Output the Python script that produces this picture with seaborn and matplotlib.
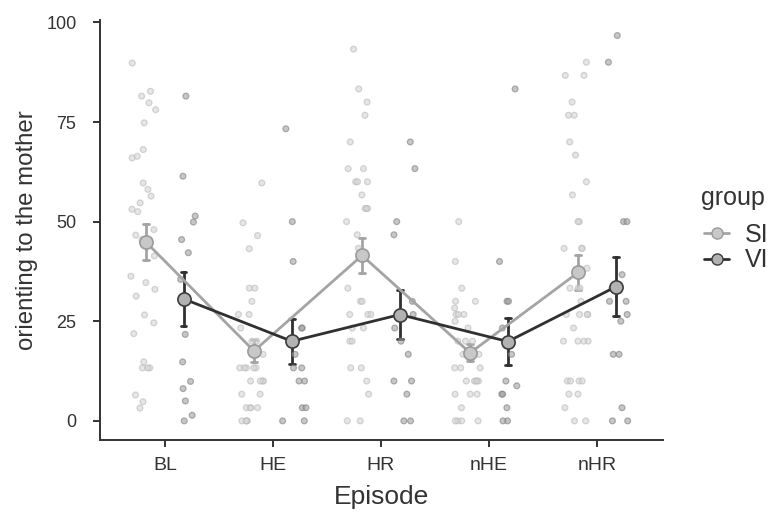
import numpy as np
import pandas as pd
import matplotlib
matplotlib.use("Agg")
import matplotlib.pyplot as plt
import seaborn as sns
from matplotlib.lines import Line2D

episodes = ["BL", "HE", "HR", "nHE", "nHR"]
groups = ["SI", "VI"]

# individual scores per episode and group
bl_si = [89.8, 82.7, 81.5, 79.8, 78.1, 74.8, 68.1, 66.0, 66.4, 59.7, 58.1, 56.4, 54.7,
         53.1, 52.5, 48.0, 46.6, 45.5, 41.4, 36.3, 34.7, 33.0, 31.3, 26.6, 24.6, 21.9,
         14.8, 13.3, 13.3, 13.3, 6.5, 4.8, 3.2]
bl_vi = [81.5, 61.4, 51.4, 49.9, 45.5, 42.2, 35.5, 21.7, 14.8, 9.9, 8.1, 5.0, 1.4, 0.0]

he_si = [59.7, 49.7, 46.5, 43.2, 33.3, 33.3, 30.0, 26.7, 26.7, 23.3, 20.0, 20.0, 16.7,
         16.7, 13.3, 13.3, 13.3, 13.3, 13.3, 10.0, 10.0, 10.0, 10.0, 6.7, 6.7, 3.3, 3.3,
         3.3, 3.3, 0.0, 0.0, 0.0, 0.0]
he_vi = [73.3, 50.0, 40.0, 23.3, 23.3, 16.7, 13.3, 13.3, 10.0, 10.0, 3.3, 3.3, 0.0, 0.0]

hr_si = [93.3, 83.3, 80.0, 76.7, 70.0, 63.3, 63.3, 60.0, 60.0, 60.0, 56.7, 53.3, 53.3,
         53.3, 50.0, 46.7, 43.3, 33.3, 30.0, 30.0, 26.7, 26.7, 26.7, 23.3, 23.3, 20.0,
         20.0, 13.3, 13.3, 10.0, 6.7, 0.0, 0.0]
hr_vi = [70.0, 63.3, 50.0, 46.7, 30.0, 26.7, 23.3, 20.0, 16.7, 10.0, 10.0, 6.7, 0.0, 0.0]

nhe_si = [50.0, 40.0, 33.3, 30.0, 30.0, 28.3, 26.7, 26.7, 26.7, 25.0, 23.3, 20.0, 20.0,
          20.0, 16.7, 16.7, 16.7, 13.3, 13.3, 13.3, 10.0, 10.0, 10.0, 10.0, 10.0, 6.7,
          6.7, 6.7, 3.3, 0.0, 0.0, 0.0, 0.0]
nhe_vi = [83.3, 40.0, 30.0, 30.0, 23.3, 20.0, 16.7, 10.0, 8.8, 6.7, 6.7, 3.3, 0.0, 0.0]

nhr_si = [90.0, 86.7, 86.7, 80.0, 76.7, 76.7, 70.0, 66.7, 60.0, 56.7, 50.0, 50.0, 43.3,
          43.3, 43.3, 38.3, 33.3, 33.3, 33.3, 30.0, 26.7, 26.7, 26.7, 26.7, 23.3, 20.0,
          20.0, 20.0, 20.0, 10.0, 10.0, 10.0, 10.0, 6.7, 6.7, 3.3, 0.0, 0.0]
nhr_vi = [96.7, 90.0, 50.0, 50.0, 36.7, 33.3, 30.0, 30.0, 26.7, 25.0, 16.7, 16.7, 3.3,
          0.0, 0.0]

y_ticks = [0, 25, 50, 75, 100]

si_sets = [bl_si, he_si, hr_si, nhe_si, nhr_si]
vi_sets = [bl_vi, he_vi, hr_vi, nhe_vi, nhr_vi]

rows = []
for ep, si, vi in zip(episodes, si_sets, vi_sets):
    rows += [(ep, "SI", v) for v in si]
    rows += [(ep, "VI", v) for v in vi]
df = pd.DataFrame(rows, columns=["Episode", "group", "orienting to the mother"])

sns.set_theme(style="ticks")
plt.rcParams["font.family"] = ["Liberation Sans", "DejaVu Sans"]
text_col = "#333333"

fig = plt.figure(figsize=(7.69, 5.14), dpi=100)
ax = fig.add_axes([100 / 769, 1 - 440 / 514, 563 / 769, 420 / 514])

strip_face = {"SI": "#d6d6d6", "VI": "#a2a2a2"}
strip_edge = {"SI": "#bababa", "VI": "#808080"}
line_col = {"SI": "#a4a4a4", "VI": "#303030"}
mean_face = {"SI": "#c8c8c8", "VI": "#b2b2b2"}
mean_edge = {"SI": "#9a9a9a", "VI": "#3c3c3c"}

np.random.seed(7)
sns.stripplot(data=df, x="Episode", y="orienting to the mother", hue="group",
              order=episodes, hue_order=groups, dodge=True, jitter=0.24,
              palette=strip_face, size=4.2, linewidth=0.9, edgecolor="#999999",
              alpha=0.6, legend=False, ax=ax)

# per-group edge colours for the raw points
for coll in ax.collections:
    fc = coll.get_facecolor()
    if len(fc) and fc[0][0] > 0.7:
        coll.set_edgecolor(strip_edge["SI"])
    else:
        coll.set_edgecolor(strip_edge["VI"])

n_before = len(ax.lines)
sns.pointplot(data=df, x="Episode", y="orienting to the mother", hue="group",
              order=episodes, hue_order=groups, dodge=0.35, errorbar="se",
              capsize=0.05, palette=line_col, markers="o", markersize=9.5,
              linewidth=2, err_kws={"linewidth": 2}, ax=ax)

for ln in ax.lines[n_before:]:
    if ln.get_marker() == "o":
        c = matplotlib.colors.to_hex(ln.get_color())
        g = "SI" if c == line_col["SI"] else "VI"
        ln.set_markerfacecolor(mean_face[g])
        ln.set_markeredgecolor(mean_edge[g])
        ln.set_markeredgewidth(1.2)
        ln.set_zorder(5)

ax.set_xlim(-0.6, 4.61)
ax.set_ylim(-4.8, 100.6)
ax.set_yticks(y_ticks)
ax.set_yticklabels([str(t) for t in y_ticks])

sns.despine(ax=ax)
for sp in ("left", "bottom"):
    ax.spines[sp].set_color(text_col)
    ax.spines[sp].set_linewidth(1.4)
ax.tick_params(axis="both", length=5, width=1.4, color=text_col,
               labelcolor=text_col)
ax.tick_params(axis="y", pad=12, labelsize=13)
ax.tick_params(axis="x", pad=7, labelsize=14)

ax.set_xlabel("Episode", fontsize=19, color=text_col, labelpad=8)
ax.set_ylabel("orienting to the mother", fontsize=17.3, color=text_col, labelpad=6)

if ax.get_legend() is not None:
    ax.get_legend().remove()
handles = [Line2D([], [], color=line_col[g], linewidth=2, marker="o", markersize=8,
                  markerfacecolor=mean_face[g], markeredgecolor=mean_edge[g])
           for g in groups]
leg = ax.legend(handles, groups, frameon=False, loc="upper left",
                bbox_to_anchor=(704 / 769, 1 - 223 / 514),
                bbox_transform=fig.transFigure, fontsize=18,
                handlelength=1.0, handletextpad=0.65, labelspacing=0.05,
                borderpad=0, borderaxespad=0)
for t in leg.get_texts():
    t.set_color(text_col)
fig.text(701 / 769, 1 - 198 / 514, "group", fontsize=18, color=text_col,
         ha="left", va="center")

fig.savefig("out.png", dpi=100)
